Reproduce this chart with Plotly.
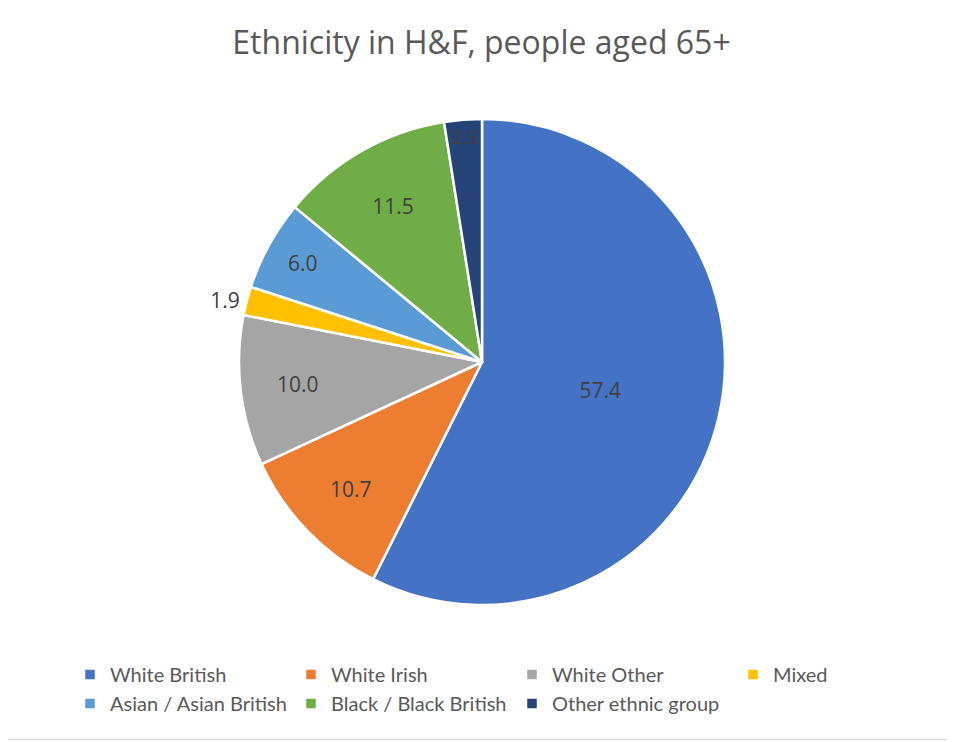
import plotly.graph_objects as go

categories = ["White British", "White Irish", "White Other", "Mixed",
              "Asian / Asian British", "Black / Black British", "Other ethnic group"]
values = [57.4, 10.7, 10.0, 1.9, 6.0, 11.5, 2.5]
colors = ["#4472C4", "#ED7D31", "#A5A5A5", "#FFC000", "#5B9BD5", "#70AD47", "#264478"]
text_positions = ["inside", "inside", "inside", "outside", "inside", "inside", "inside"]

# page has an 8px body margin, so the figure is 8px smaller and coordinates shifted
OFF = 8
W, H = 955 - OFF, 742 - OFF
cx, cy, r = 482 - OFF, 362 - OFF, 243

lab_font = dict(family="Open Sans", size=21, color="#404040")

ENTRY = 176            # legend entry text width
STEP = ENTRY + 45      # full legend item pitch
LEG_X = W - 4 * STEP - 1

fig = go.Figure(go.Pie(
    labels=categories,
    values=values,
    sort=False,
    direction="clockwise",
    rotation=0,
    marker=dict(colors=colors, line=dict(color="white", width=2.5)),
    texttemplate="%{value:.1f}",
    textposition=text_positions,
    insidetextorientation="horizontal",
    textfont=lab_font,
    insidetextfont=lab_font,
    outsidetextfont=lab_font,
    hoverinfo="label+value",
    domain=dict(x=[(cx - r) / W, (cx + r) / W], y=[1 - (cy + r) / H, 1 - (cy - r) / H]),
))

fig.update_layout(
    width=W, height=H,
    margin=dict(l=0, r=0, t=0, b=0, autoexpand=False),
    paper_bgcolor="white",
    title=dict(text="Ethnicity in H&F, people aged 65+", x=0.5, xanchor="center",
               y=1 - (43 - OFF) / H, yanchor="middle",
               font=dict(family="Open Sans", size=32, color="#595959")),
    legend=dict(orientation="h", x=LEG_X / W, xanchor="left",
                y=1 - (655 - OFF) / H, yanchor="top",
                entrywidth=ENTRY, entrywidthmode="pixels",
                font=dict(family="Lato", size=20, color="#595959"),
                itemclick=False, tracegroupgap=0),
    showlegend=True,
    shapes=[
        dict(type="line", xref="paper", yref="paper",
             x0=0, x1=(953 - OFF) / W, y0=1 - (739.5 - OFF) / H, y1=1 - (739.5 - OFF) / H,
             line=dict(color="#D9D9D9", width=1.5)),
    ],
)

fig.write_html("out.html")
